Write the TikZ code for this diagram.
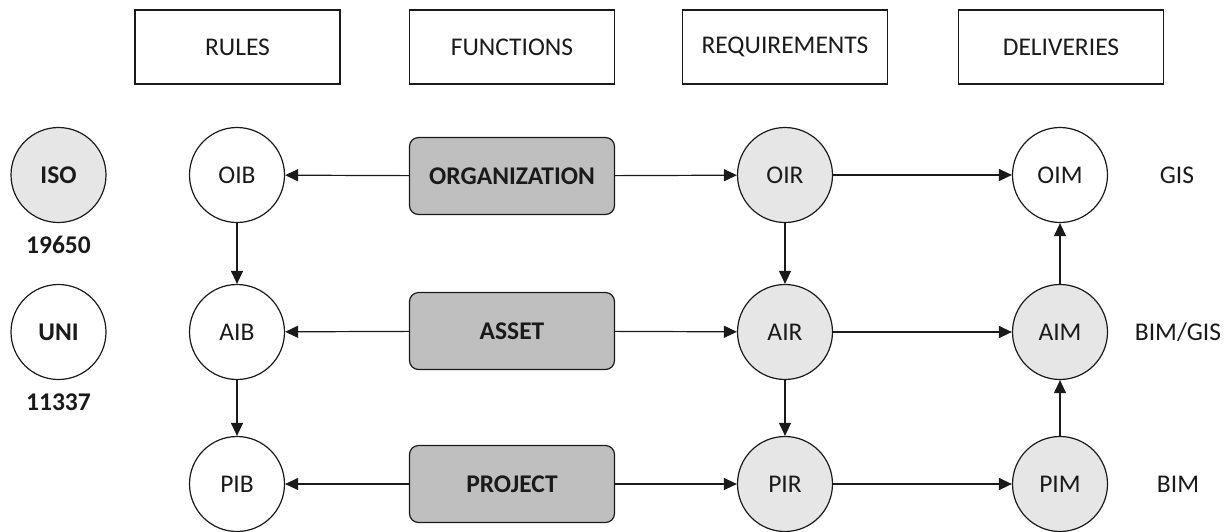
\documentclass[tikz,border=0pt]{standalone}
\usepackage{fontspec}
\setmainfont{Carlito}
\usetikzlibrary{arrows.meta}
\definecolor{cgray}{HTML}{E6E6E6}
\definecolor{bgray}{HTML}{BFBFBF}
\definecolor{ink}{HTML}{1A1A1A}
\begin{document}
\begin{tikzpicture}[x=1pt,y=-1pt,
  font=\fontsize{25.5}{30}\selectfont,
  every node/.style={text=ink},
  circ/.style={circle,draw=ink,line width=1.2pt,minimum size=95pt,inner sep=0pt,fill=white},
  gcirc/.style={circ,fill=cgray},
  headbox/.style={draw=ink,line width=1.2pt,minimum width=205pt,minimum height=74pt,inner sep=0pt},
  funcbox/.style={draw=ink,line width=1.2pt,rounded corners=9pt,fill=bgray,minimum width=205pt,minimum height=77pt,inner sep=0pt,font=\fontsize{25.5}{30}\selectfont\bfseries},
  lbl/.style={inner sep=0pt},
  arr/.style={draw=ink,line width=1.2pt,-{Triangle[length=13pt,width=12pt]}}]
\useasboundingbox (0,0) rectangle (1225,531);
% header boxes
\node[headbox] (rules) at (237.5,47) {RULES};
\node[headbox] (functions) at (512,47) {FUNCTIONS};
\node[headbox] (requirements) at (785,47) {REQUIREMENTS};
\node[headbox] (deliveries) at (1061,47) {DELIVERIES};
% standards
\node[gcirc,font=\fontsize{25.5}{30}\selectfont\bfseries] (iso) at (58.5,175) {ISO};
\node[lbl,font=\fontsize{25.5}{30}\selectfont\bfseries] (n19650) at (58.5,245) {19650};
\node[circ,font=\fontsize{25.5}{30}\selectfont\bfseries] (uni) at (58.5,332) {UNI};
\node[lbl,font=\fontsize{25.5}{30}\selectfont\bfseries] (n11337) at (58.5,402) {11337};
% rules column
\node[circ] (oib) at (237,175) {OIB};
\node[circ] (aib) at (237,332) {AIB};
\node[circ] (pib) at (237,484) {PIB};
% functions
\node[funcbox] (org) at (512,176) {ORGANIZATION};
\node[funcbox] (asset) at (512,331) {ASSET};
\node[funcbox] (proj) at (512,484) {PROJECT};
% requirements
\node[gcirc] (oir) at (785,175) {OIR};
\node[gcirc] (air) at (785,332) {AIR};
\node[gcirc] (pir) at (785,484) {PIR};
% deliveries
\node[circ] (oim) at (1060,175) {OIM};
\node[gcirc] (aim) at (1060,332) {AIM};
\node[gcirc] (pim) at (1060,484) {PIM};
% side labels
\node[lbl] (gis) at (1177,175) {GIS};
\node[lbl] (bimgis) at (1178,332) {BIM/GIS};
\node[lbl] (bim) at (1178,484) {BIM};
% connectors
\draw[arr] (org) -- (oib);
\draw[arr] (org) -- (oir);
\draw[arr] (asset) -- (aib);
\draw[arr] (asset) -- (air);
\draw[arr] (proj) -- (pib);
\draw[arr] (proj) -- (pir);
\draw[arr] (oib) -- (aib);
\draw[arr] (aib) -- (pib);
\draw[arr] (oir) -- (air);
\draw[arr] (air) -- (pir);
\draw[arr] (oir) -- (oim);
\draw[arr] (air) -- (aim);
\draw[arr] (pir) -- (pim);
\draw[arr] (pim) -- (aim);
\draw[arr] (aim) -- (oim);
\end{tikzpicture}
\end{document}
